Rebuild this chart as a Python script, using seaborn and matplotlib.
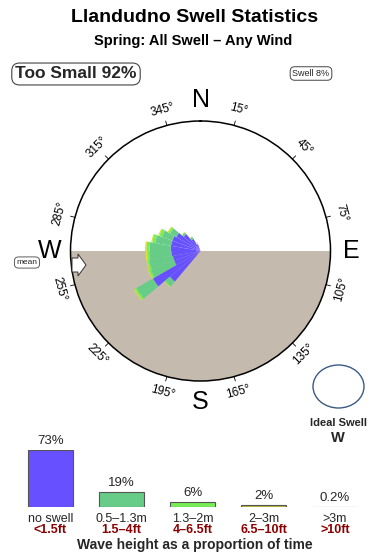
import numpy as np
import matplotlib
matplotlib.use("Agg")
import matplotlib.pyplot as plt
import seaborn as sns
from matplotlib.patches import Ellipse, Polygon

sns.set_theme(style="white")
plt.rcParams["font.family"] = ["Liberation Sans", "DejaVu Sans"]

# ---------------- data ----------------
title = "Llandudno Swell Statistics"
subtitle = "Spring: All Swell \u2013 Any Wind"
too_small = "Too Small 92%"
swell_pct = "Swell 8%"
ideal_dir = "W"

# rose: direction bins (deg, from) and stacked segment lengths per class
directions = [225, 235, 245, 255, 265, 275, 285, 295, 305, 315, 325, 335]
seg_noswell = [40, 55, 28, 28, 29, 30, 30, 30, 28, 22, 14, 7]
seg_small = [6, 19, 25, 24, 22, 21, 16, 11, 7, 2, 2, 1]
seg_mid = [1, 2, 2, 2, 2, 3, 3, 3, 2, 0.5, 0.5, 0.3]
seg_big = [0.5, 1, 1, 1, 2, 1.5, 1, 1, 1, 0.5, 0.5, 0.2]
rose_max = 130

compass_pts = ["N", "E", "S", "W"]
compass_deg = [0, 90, 180, 270]
tick_deg = [15, 45, 75, 105, 135, 165, 195, 225, 255, 285, 315, 345]
mean_dir = 265

# bottom bar chart
classes = ["no swell", "0.5\u20131.3m", "1.3\u20132m", "2\u20133m", ">3m"]
feet = ["<1.5ft", "1.5\u20134ft", "4\u20136.5ft", "6.5\u201310ft", ">10ft"]
pct = [73, 19, 6, 2, 0.2]
pct_labels = ["73%", "19%", "6%", "2%", "0.2%"]

c_blue = "#6650ff"
c_green = "#66cc88"
c_lime = "#77ee55"
c_yellow = "#dddd33"
c_tan = "#ccb0ac"
land = "#c5baae"
bar_colors = [c_blue, c_green, c_lime, "#bbbb33", c_tan]

W, H = 390, 560
fig = plt.figure(figsize=(W / 100, H / 100), dpi=100)
fig.patch.set_facecolor("white")

def fx(x):
    return x / W

def fy(y):
    return 1 - y / H

# titles
fig.text(fx(195), fy(18), title, ha="center", va="center", fontsize=14, fontweight="bold", color="black")
fig.text(fx(193), fy(41), subtitle, ha="center", va="center", fontsize=10.5, fontweight="bold", color="black")
fig.text(fx(76), fy(74), too_small, ha="center", va="center", fontsize=12.5, fontweight="bold",
         bbox=dict(boxstyle="round,pad=0.2,rounding_size=0.45", fc="white", ec="#444444", lw=0.8))
fig.text(fx(311), fy(73.5), swell_pct, ha="center", va="center", fontsize=6.5,
         bbox=dict(boxstyle="round,pad=0.25,rounding_size=0.5", fc="white", ec="#444444", lw=0.7))

# ---------------- rose ----------------
cx, cy, R = 200.5, 251, 130
ax = fig.add_axes([fx(cx - R), fy(cy + R), 2 * R / W, 2 * R / H], projection="polar")
ax.set_theta_zero_location("N")
ax.set_theta_direction(-1)
ax.set_ylim(0, rose_max)
ax.set_xticks([])
ax.set_yticks([])
ax.grid(False)
ax.set_facecolor("white")
ax.spines["polar"].set_linewidth(1.1)
ax.spines["polar"].set_color("black")
ax.spines["polar"].set_zorder(5)

th_land = np.linspace(np.pi / 2, 3 * np.pi / 2, 200)
ax.fill_between(th_land, 0, rose_max, color=land, lw=0, zorder=1)

theta = np.deg2rad(directions)
width = np.deg2rad(10)
bottom = np.zeros(len(directions))
for seg, col in [(seg_noswell, c_blue), (seg_small, c_green), (seg_mid, c_lime), (seg_big, c_yellow)]:
    seg = np.array(seg, dtype=float)
    ax.bar(theta, seg, width=width, bottom=bottom, color=col, lw=0, zorder=3, align="center")
    bottom = bottom + seg

for d in tick_deg:
    t = np.deg2rad(d)
    ax.plot([t, t], [rose_max, rose_max * 1.035], color="black", lw=0.6, clip_on=False, zorder=6)
    rot = ((-d + 90) % 180) - 90
    ax.text(t, rose_max * 1.125, f"{d}\u00b0", ha="center", va="center", rotation=rot,
            rotation_mode="anchor", fontsize=8.5, color="black", clip_on=False)

for lab, d in zip(compass_pts, compass_deg):
    ax.text(np.deg2rad(d), rose_max * 1.16, lab, ha="center", va="center", fontsize=18, color="black",
            clip_on=False)

# mean arrow (pointing into the circle at the mean direction)
arrow_px = [(72, 258), (78, 258), (78, 254), (86, 265), (78, 276), (78, 272), (72, 272)]
fig.add_artist(Polygon([(fx(x), fy(y)) for x, y in arrow_px], closed=True, transform=fig.transFigure,
                       fc="white", ec="#333333", lw=0.7, zorder=10))
fig.text(fx(27), fy(262.5), "mean", ha="center", va="center", fontsize=6,
         bbox=dict(boxstyle="round,pad=0.25,rounding_size=0.5", fc="white", ec="#444444", lw=0.6))

# ideal swell
fig.add_artist(Ellipse((fx(338.5), fy(386.5)), 51 / W, 43 / H, transform=fig.transFigure, fill=False,
                       ec="#3a5a85", lw=1.0))
fig.text(fx(338), fy(423), "Ideal Swell", ha="center", va="center", fontsize=8, fontweight="bold")
fig.text(fx(338), fy(438.5), ideal_dir, ha="center", va="center", fontsize=10.5, fontweight="bold")

# ---------------- bottom bars ----------------
base = 507
axb = fig.add_axes([fx(14.9), fy(base), 355.7 / W, 57 / H])
sns.barplot(x=classes, y=pct, hue=classes, palette=bar_colors, width=0.63, edgecolor="#555555",
            linewidth=0.8, saturation=1, legend=False, ax=axb)
axb.set_ylim(0, 73)
axb.set_xlim(-0.5, 4.5)
axb.axis("off")
for i, v in enumerate(pct):
    axb.annotate(pct_labels[i], (i, v), xytext=(0, 6.5), textcoords="offset points", ha="center",
                 va="center", fontsize=9.5, annotation_clip=False)
    axb.annotate(classes[i], (i, 0), xytext=(0, -8.6), textcoords="offset points", ha="center",
                 va="center", fontsize=9, annotation_clip=False)
    axb.annotate(feet[i], (i, 0), xytext=(0, -16.8), textcoords="offset points", ha="center",
                 va="center", fontsize=9, fontweight="bold", color="#8b0000", annotation_clip=False)

fig.text(fx(194.5), fy(545.5), "Wave height as a proportion of time", ha="center", va="center",
         fontsize=10, fontweight="bold")

fig.savefig("out.png", dpi=100, facecolor="white")
